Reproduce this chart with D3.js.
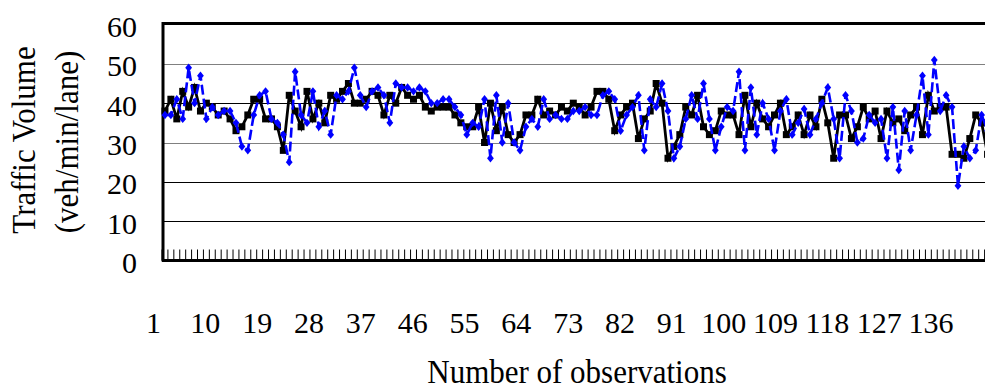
<!DOCTYPE html>
<html>
<head>
<meta charset="utf-8">
<script src="https://cdn.jsdelivr.net/npm/d3@7"></script>
<style>
  html, body { margin: 0; padding: 0; background: #fff; }
  svg { display: block; }
  text { font-family: "Liberation Serif", "Times New Roman", serif; fill: #000; }
</style>
</head>
<body>
<svg id="chart" width="985" height="390"></svg>
<script>
// Observation index (one-minute intervals)
const observations = d3.range(1, 141);

// Observed traffic volume (veh/min/lane) – black squares
const observedVolume = [
  38, 41, 36, 43, 39, 44, 38, 40, 39, 37,
  38, 36, 33, 34, 37, 41, 41, 36, 36, 34,
  28, 42, 38, 34, 43, 36, 40, 35, 42, 41,
  43, 45, 40, 40, 41, 43, 42, 37, 42, 40,
  44, 42, 41, 42, 39, 38, 39, 39, 39, 37,
  35, 34, 34, 39, 30, 40, 33, 39, 32, 30,
  32, 37, 37, 41, 37, 38, 37, 39, 38, 40,
  39, 37, 39, 43, 43, 41, 33, 37, 39, 40,
  31, 36, 38, 45, 40, 26, 29, 32, 39, 37,
  42, 34, 32, 33, 38, 37, 37, 32, 42, 34,
  40, 36, 34, 37, 40, 32, 34, 37, 32, 37,
  34, 41, 35, 26, 37, 37, 31, 34, 39, 36,
  38, 31, 38, 35, 36, 33, 37, 39, 32, 42,
  38, 39, 39, 27, 27, 26, 31, 37, 35, 27
];

// Estimated traffic volume (veh/min/lane) – blue diamonds, dashed
const estimatedVolume = [
  37, 37, 41, 36, 49, 40, 47, 36, 39, 37,
  38, 38, 35, 29, 28, 37, 42, 43, 36, 35,
  32, 25, 48, 37, 35, 43, 34, 38, 32, 42,
  41, 43, 49, 42, 39, 43, 44, 42, 35, 45,
  44, 44, 43, 44, 43, 40, 40, 41, 41, 39,
  37, 32, 35, 34, 41, 26, 42, 30, 40, 30,
  28, 34, 36, 34, 41, 36, 37, 36, 36, 38,
  38, 39, 37, 37, 42, 43, 41, 33, 37, 39,
  42, 28, 41, 39, 45, 38, 26, 29, 36, 42,
  36, 45, 36, 28, 34, 39, 38, 48, 28, 44,
  32, 40, 36, 28, 38, 41, 32, 35, 38.5, 32,
  36, 40, 44, 36, 26, 42, 38, 30, 31, 37,
  35, 36, 26, 39, 23, 38, 28, 37, 47, 32,
  51, 38, 42, 39, 19, 29, 26, 28, 37, 33
];

const xTickLabels = ["1", "10", "19", "28", "37", "46", "55", "64", "73", "82",
                     "91", "100", "109", "118", "127", "136"];
const yTickValues = [0, 10, 20, 30, 40, 50, 60];

const W = 985, H = 390;
const svg = d3.select("#chart");

const plotLeft = 162, plotTop = 24.5, plotBottom = 260.5;
const step = 5.918;

const x = d3.scaleBand()
  .domain(observations)
  .range([plotLeft, plotLeft + step * observations.length]);
const cx = d => x(d) + x.bandwidth() / 2;

const y = d3.scaleLinear().domain([0, 60]).range([plotBottom, plotTop]);

// category label positions along the lower caption row
const xLabel = d3.scalePoint().domain(xTickLabels).range([153.5, 931]);

// horizontal gridlines
svg.append("g")
  .selectAll("line")
  .data(yTickValues.filter(v => v > 0 && v < 60))
  .join("line")
  .attr("x1", plotLeft)
  .attr("x2", W)
  .attr("y1", d => Math.round(y(d)) + 0.5)
  .attr("y2", d => Math.round(y(d)) + 0.5)
  .attr("stroke", d => (d === 30 || d === 50) ? "#808080" : "#000")
  .attr("stroke-width", 1);

// category tick marks along the bottom edge
const tickEdges = observations.map(d => x(d)).concat([x.range()[1]]);
svg.append("g")
  .selectAll("line")
  .data(tickEdges)
  .join("line")
  .attr("x1", d => d)
  .attr("x2", d => d)
  .attr("y1", plotBottom - 11)
  .attr("y2", plotBottom)
  .attr("stroke", "#000")
  .attr("stroke-width", 1);

// frame: top, left, bottom
const frame = svg.append("g").attr("stroke", "#000").attr("stroke-width", 3);
frame.append("line").attr("x1", plotLeft).attr("x2", W).attr("y1", plotTop - 1).attr("y2", plotTop - 1);
frame.append("line").attr("x1", plotLeft + 1).attr("x2", plotLeft + 1).attr("y1", plotTop - 2.5).attr("y2", plotBottom + 1);
frame.append("line").attr("x1", plotLeft).attr("x2", W).attr("y1", plotBottom).attr("y2", plotBottom);

// y tick labels
svg.append("g")
  .selectAll("text")
  .data(yTickValues)
  .join("text")
  .attr("x", 137)
  .attr("y", d => y(d) + 2)
  .attr("dy", "0.35em")
  .attr("text-anchor", "end")
  .attr("font-size", 30)
  .text(d => d);

// x tick labels
svg.append("g")
  .selectAll("text")
  .data(xTickLabels)
  .join("text")
  .attr("x", d => xLabel(d))
  .attr("y", 333)
  .attr("text-anchor", "middle")
  .attr("font-size", 30)
  .text(d => d);

// axis titles
svg.append("text")
  .attr("transform", "translate(35,140) rotate(-90) scale(1,1.08)")
  .attr("text-anchor", "middle")
  .attr("font-size", 31)
  .text("Traffic Volume");
svg.append("text")
  .attr("transform", "translate(78,142) rotate(-90) scale(1,1.08)")
  .attr("text-anchor", "middle")
  .attr("font-size", 31)
  .text("(veh/min/lane)");
svg.append("text")
  .attr("transform", "translate(577,383) scale(1,1.08)")
  .attr("text-anchor", "middle")
  .attr("font-size", 31)
  .text("Number of observations");

// series
const plotArea = svg.append("g");
const obsRows = observations.map((d, i) => ({ k: d, v: observedVolume[i] }));
const estRows = observations.map((d, i) => ({ k: d, v: estimatedVolume[i] }));
const line = d3.line().x(d => cx(d.k)).y(d => y(d.v));

plotArea.append("path")
  .datum(obsRows)
  .attr("fill", "none")
  .attr("stroke", "#000")
  .attr("stroke-width", 2.8)
  .attr("stroke-linejoin", "miter")
  .attr("d", line);
plotArea.append("g")
  .selectAll("rect")
  .data(obsRows)
  .join("rect")
  .attr("x", d => cx(d.k) - 3.5)
  .attr("y", d => y(d.v) - 3.5)
  .attr("width", 7)
  .attr("height", 7)
  .attr("fill", "#000");

plotArea.append("path")
  .datum(estRows)
  .attr("fill", "none")
  .attr("stroke", "#0000FF")
  .attr("stroke-width", 2.6)
  .attr("stroke-dasharray", "10,4")
  .attr("d", line);
plotArea.append("g")
  .selectAll("path")
  .data(estRows)
  .join("path")
  .attr("transform", d => `translate(${cx(d.k)},${y(d.v)})`)
  .attr("d", "M0,-4.2L3.4,0L0,4.2L-3.4,0Z")
  .attr("fill", "#0000FF");
</script>
</body>
</html>
